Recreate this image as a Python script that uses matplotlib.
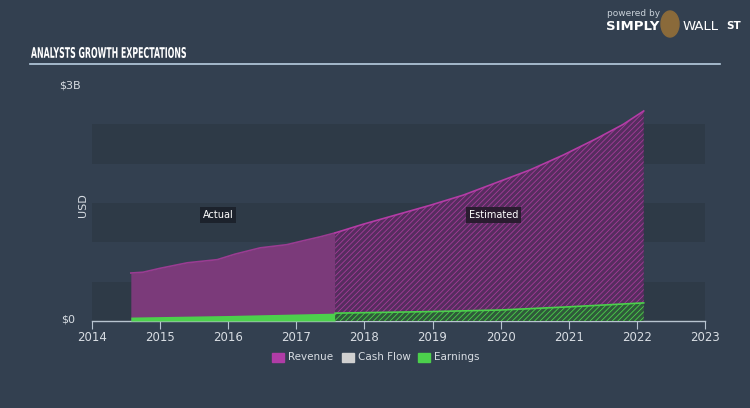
import matplotlib.pyplot as plt
from matplotlib.patches import Ellipse, PathPatch
from matplotlib.textpath import TextPath
from matplotlib.font_manager import FontProperties
from matplotlib.transforms import Affine2D

# Revenue (USD billions), actual then estimated
rev_actual_x = [2014.57, 2014.75, 2015.0, 2015.4, 2015.84, 2016.1, 2016.47, 2016.86, 2017.1, 2017.35, 2017.57]
rev_actual_y = [0.61, 0.62, 0.67, 0.74, 0.78, 0.85, 0.93, 0.97, 1.02, 1.07, 1.12]
rev_est_x = [2017.57, 2017.98, 2018.47, 2018.96, 2019.45, 2019.94, 2020.43, 2020.92, 2021.41, 2021.8, 2022.1]
rev_est_y = [1.12, 1.23, 1.35, 1.47, 1.60, 1.76, 1.92, 2.11, 2.32, 2.50, 2.67]

# Earnings (USD billions)
earn_actual_x = [2014.57, 2016.0, 2017.57]
earn_actual_y = [0.05, 0.07, 0.10]
earn_est_x = [2017.57, 2019.0, 2020.0, 2021.0, 2022.1]
earn_est_y = [0.10, 0.12, 0.14, 0.18, 0.23]

legend_labels = ["Revenue", "Cash Flow", "Earnings"]
legend_colors = ["#b03ca6", "#d0d0d0", "#4cd04c"]

BG = "#334050"
BAND = "#2e3a47"
TXT = "#d8dde3"

plt.rcParams['hatch.linewidth'] = 0.6

fig = plt.figure(figsize=(7.5, 4.08), dpi=100, facecolor=BG)
ax = fig.add_axes([92 / 750, 87 / 408, 613 / 750, 236 / 408])
ax.set_facecolor(BG)
ax.set_xlim(2014, 2023)
ax.set_ylim(0, 3)

for lo in [0.0, 1.0, 2.0]:
    ax.axhspan(lo, lo + 0.5, color=BAND, zorder=0, lw=0)

# Revenue
ax.fill_between(rev_actual_x, rev_actual_y, color="#7b3a7a", lw=0, zorder=2)
ax.plot(rev_actual_x, rev_actual_y, color="#9a3c92", lw=1.2, zorder=3)
plt.rcParams['hatch.color'] = "#a43c98"
ax.fill_between(rev_est_x, rev_est_y, facecolor="#562d5f", edgecolor="#a43c98",
                hatch="//////", lw=0, zorder=2)
ax.plot(rev_est_x, rev_est_y, color="#b43ca6", lw=1.2, zorder=3)

# Earnings
ax.fill_between(earn_actual_x, earn_actual_y, color="#4cd04c", lw=0, zorder=4)
ax.fill_between(earn_est_x, earn_est_y, facecolor="#2f5a3a", edgecolor="#4cd04c",
                hatch="//////", lw=0, zorder=4)
ax.plot(earn_est_x, earn_est_y, color="#4cd04c", lw=1.2, zorder=5)

for side in ["top", "right", "left"]:
    ax.spines[side].set_visible(False)
ax.spines["bottom"].set_color("#b8c4d0")
ax.spines["bottom"].set_linewidth(1)
ax.set_xticks(range(2014, 2024))
ax.tick_params(axis="x", colors="#b8c4d0", labelcolor=TXT, length=6, labelsize=8.5, pad=1)
ax.set_yticks([])

ax.text(2015.85, 1.35, "Actual", color="white", fontsize=7, ha="center", va="center",
        bbox=dict(boxstyle="square,pad=0.3", fc="#1c222c", ec="none"), zorder=6)
ax.text(2019.9, 1.35, "Estimated", color="white", fontsize=7, ha="center", va="center",
        bbox=dict(boxstyle="square,pad=0.3", fc="#2a1c30", ec="none"), zorder=6)

fig.text(70 / 750, 1 - 86 / 408, "$3B", color=TXT, fontsize=8, ha="center", va="center")
fig.text(68 / 750, 1 - 320 / 408, "$0", color=TXT, fontsize=8, ha="center", va="center")
fig.text(83 / 750, 1 - 205 / 408, "USD", color=TXT, fontsize=8, rotation=90, ha="center", va="center")

# condensed title: squeeze a bold text path horizontally
tp = TextPath((0, 0), "ANALYSTS GROWTH EXPECTATIONS", size=15, prop=FontProperties(weight="bold"))
ext = tp.get_extents()
sx = 155 / ext.width
sy = 11 / ext.height
title_tr = Affine2D().translate(-ext.x0, -ext.y0).scale(sx, sy).translate(31, 408 - 58)
fig.patches.append(PathPatch(tp, transform=title_tr, color="white", lw=0))
fig.add_artist(plt.Line2D([30 / 750, 720 / 750], [1 - 64 / 408, 1 - 64 / 408], color="#b8cde0", lw=1.2))

fig.text(607 / 750, 1 - 14 / 408, "powered by", color="#c8d0d8", fontsize=6.5, va="center")
fig.text(606 / 750, 1 - 27 / 408, "SIMPLY", color="white", fontsize=9.5, fontweight="bold", va="center")
fig.patches.append(Ellipse((670 / 750, 1 - 24 / 408), 18 / 750, 26 / 408, color="#8a6a3a",
                           transform=fig.transFigure))
fig.text(683 / 750, 1 - 27 / 408, "WALL", color="white", fontsize=9.5, va="center")
fig.text(726 / 750, 1 - 26 / 408, "ST", color="white", fontsize=7.5, fontweight="bold", va="center")

# legend
lx = [272, 342, 418]
for x, lab, col in zip(lx, legend_labels, legend_colors):
    fig.patches.append(plt.Rectangle((x / 750, 1 - 362 / 408), 12 / 750, 9 / 408, color=col,
                                     transform=fig.transFigure))
    fig.text((x + 16) / 750, 1 - 357.5 / 408, lab, color=TXT, fontsize=7.5, va="center")

fig.savefig("out.png", dpi=100, facecolor=BG)
